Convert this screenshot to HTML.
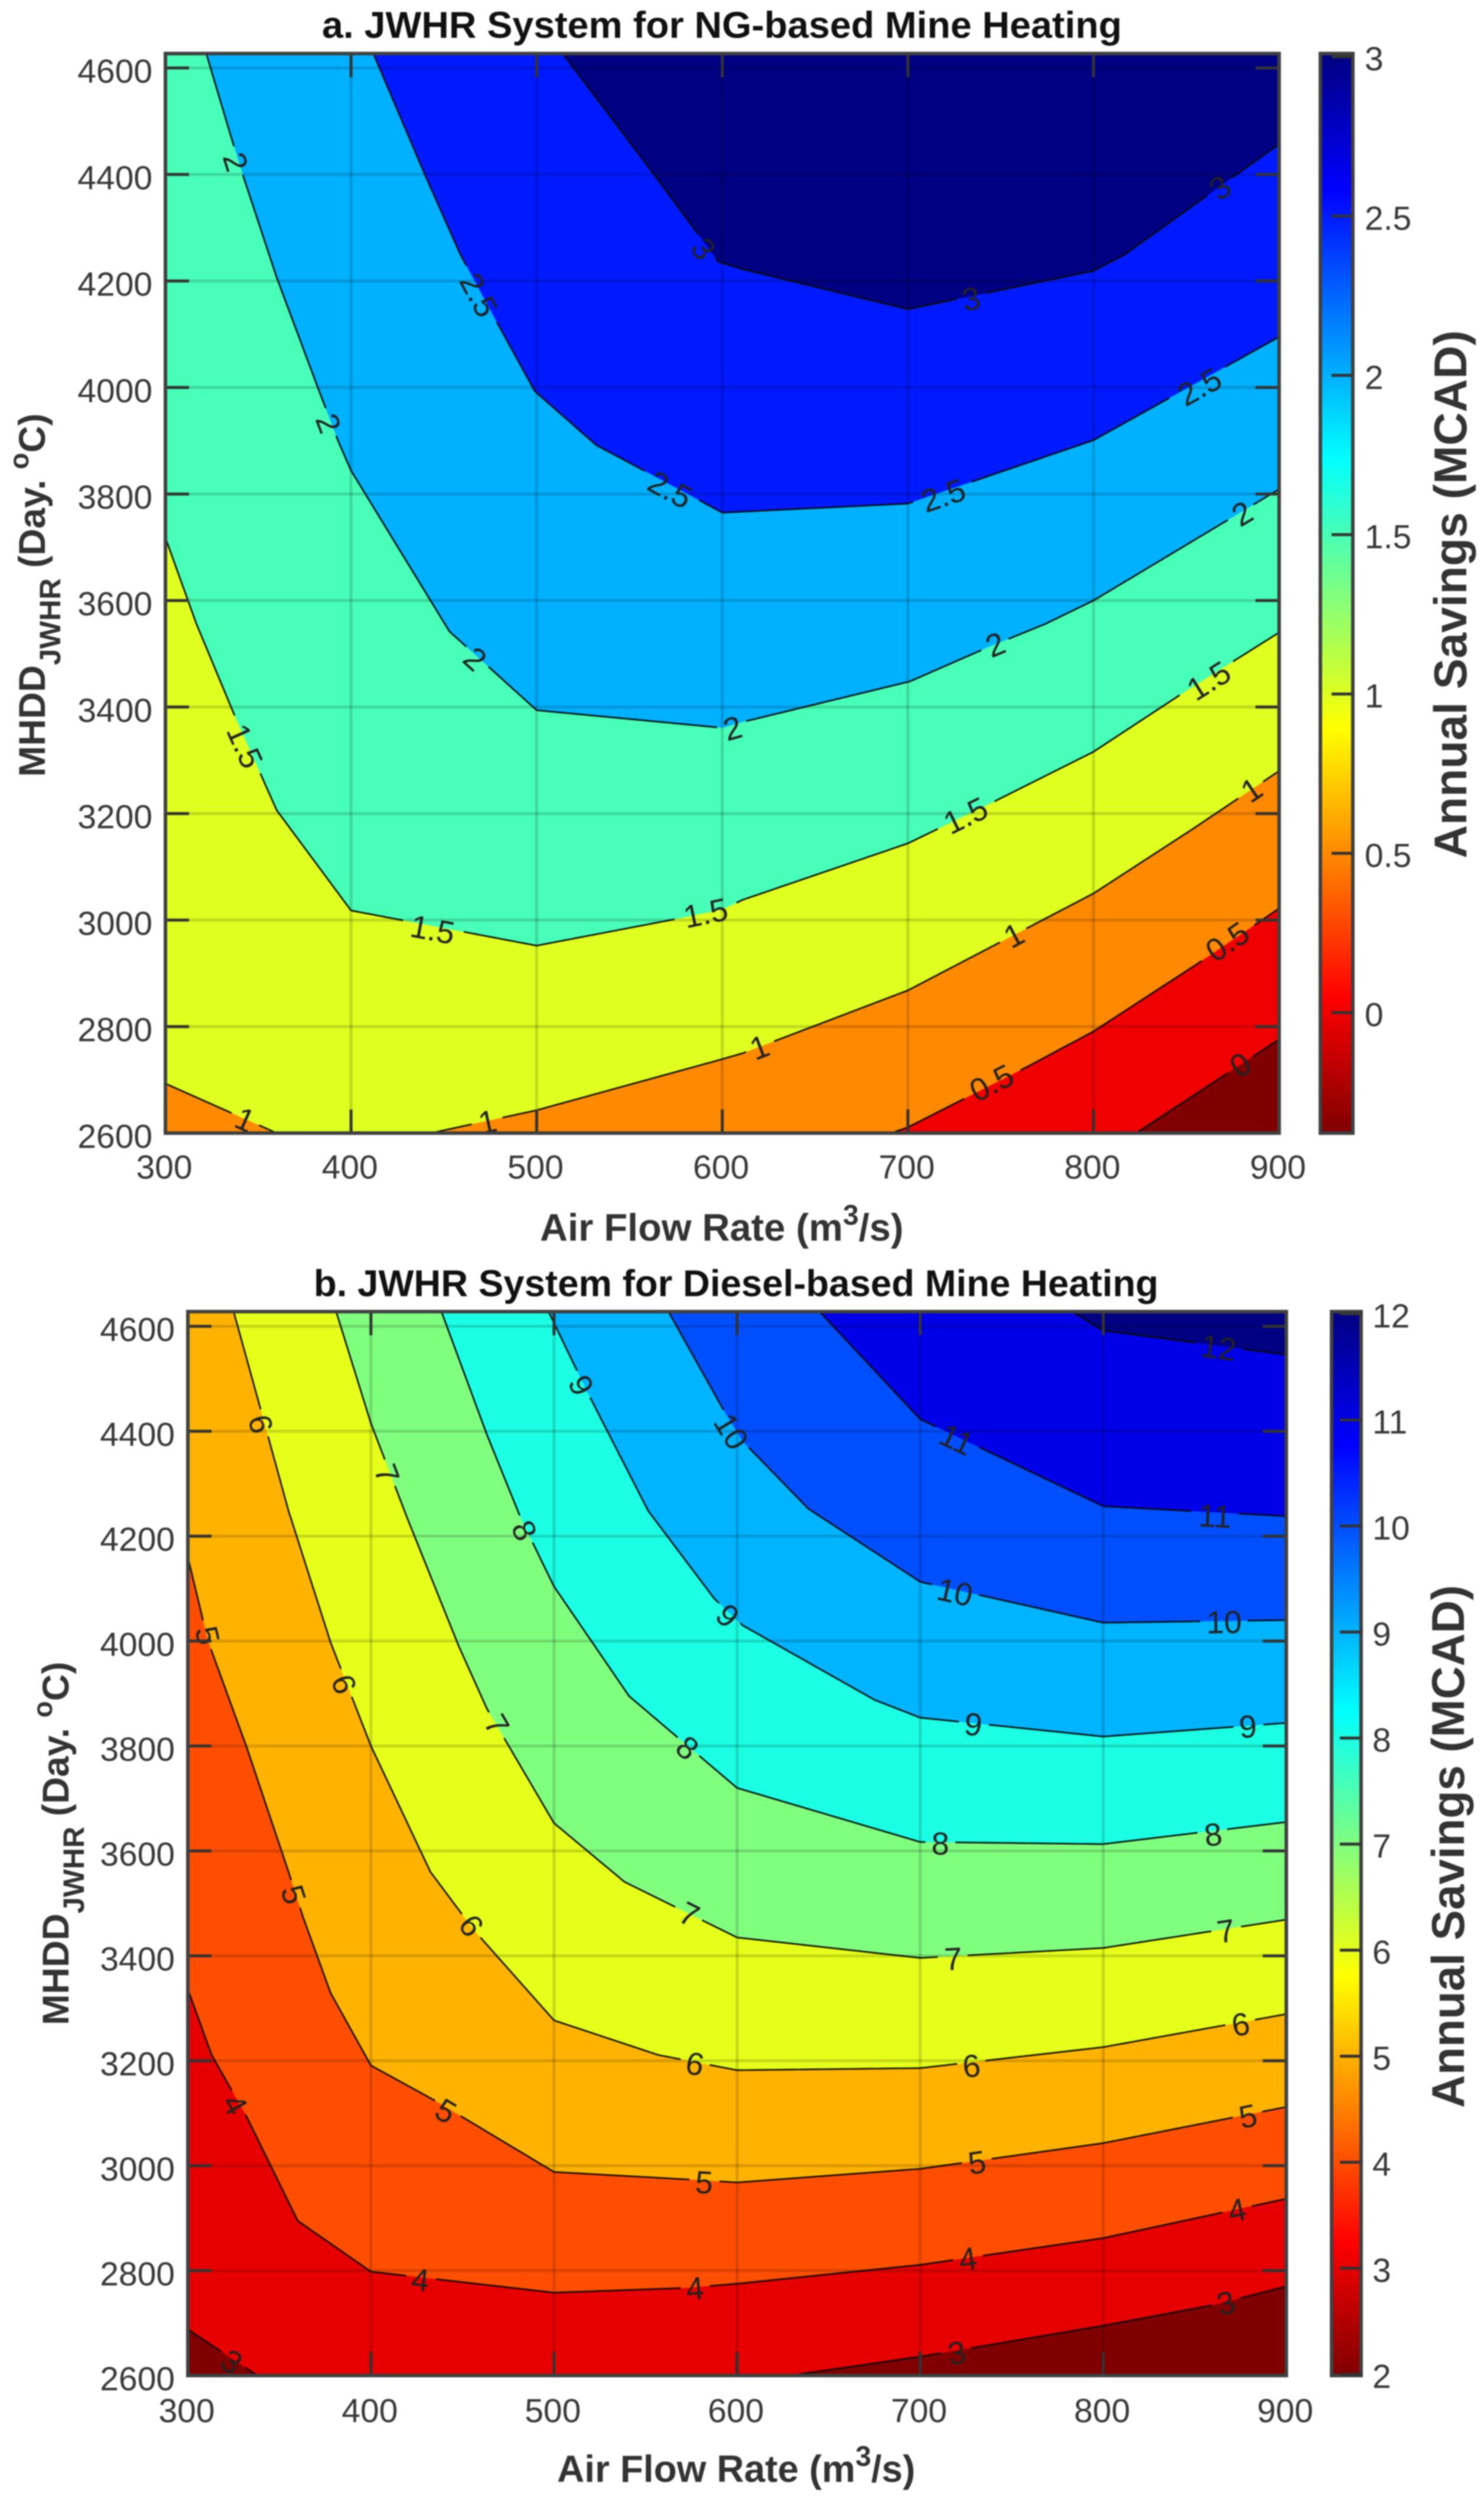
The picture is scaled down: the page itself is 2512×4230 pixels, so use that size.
<!DOCTYPE html>
<html lang="en">
<head>
<meta charset="utf-8">
<title>JWHR System Annual Savings Contours</title>
<style>
html,body{margin:0;padding:0;background:#fff;}
body{width:2512px;height:4230px;overflow:hidden;}
svg{display:block;filter:blur(1.1px);font-family:"Liberation Sans",Arial,sans-serif;}
</style>
</head>
<body>
<svg id="figure" xmlns="http://www.w3.org/2000/svg" width="2512" height="4230" viewBox="0 0 2512 4230">
  <defs id="defs"></defs>
  <text x="1222" y="64" text-anchor="middle" font-size="63" font-weight="bold" fill="#111" textLength="1354" lengthAdjust="spacingAndGlyphs">a. JWHR System for NG-based Mine Heating</text>
  <text x="1246" y="2194" text-anchor="middle" font-size="63" font-weight="bold" fill="#111" textLength="1430" lengthAdjust="spacingAndGlyphs">b. JWHR System for Diesel-based Mine Heating</text>
  <g id="chart-a"></g>
  <g id="chart-b"></g>
  <text x="914" y="2100" font-size="65" font-weight="bold" fill="#333">Air Flow Rate (m<tspan dy="-27" font-size="48">3</tspan><tspan dy="27">/s)</tspan></text>
  <text x="943" y="4201" font-size="64" font-weight="bold" fill="#333">Air Flow Rate (m<tspan dy="-27" font-size="48">3</tspan><tspan dy="27">/s)</tspan></text>
  <text transform="translate(76,1315) rotate(-90)" font-size="63" font-weight="bold" fill="#333">MHDD<tspan dy="26" font-size="50">JWHR</tspan><tspan dy="-26"> (Day. </tspan><tspan dy="-28" font-size="46">o</tspan><tspan dy="28">C)</tspan></text>
  <text transform="translate(116,3428) rotate(-90)" font-size="63" font-weight="bold" fill="#333">MHDD<tspan dy="26" font-size="50">JWHR</tspan><tspan dy="-26"> (Day. </tspan><tspan dy="-28" font-size="46">o</tspan><tspan dy="28">C)</tspan></text>
  <text transform="translate(2482,1453) rotate(-90)" font-size="78" font-weight="bold" fill="#333" textLength="894" lengthAdjust="spacingAndGlyphs">Annual Savings (MCAD)</text>
  <text transform="translate(2478,3568) rotate(-90)" font-size="78" font-weight="bold" fill="#333" textLength="885" lengthAdjust="spacingAndGlyphs">Annual Savings (MCAD)</text>
</svg>
<script>
// ---- shared axis data
const xTicks = [300, 400, 500, 600, 700, 800, 900];
const yTicks = [2600, 2800, 3000, 3200, 3400, 3600, 3800, 4000, 4200, 4400, 4600];

// ---- chart A: contour levels and colourbar
const levelsA = [0, 0.5, 1, 1.5, 2, 2.5, 3];
const cbarTicksA = [0, 0.5, 1, 1.5, 2, 2.5, 3];

// chart A contour vertices (air flow, MHDD); null = contour leaves plot
const airA0 = [823, 900];
const mhddA0 = [2600, 2776];
const airA05 = [691, 700, 764, 800, 856, 900];
const mhddA05 = [2600, 2611, 2724, 2791, 2918, 3022];
const airA1 = [300, 360, null, 443, 500, 598, 611, 700, 800, 853, 900];
const mhddA1 = [2693, 2600, null, 2600, 2643, 2737, 2750, 2868, 3050, 3170, 3280];
const airA15 = [300, 316.5, 338, 360, 400, 500, 578, 600, 611, 700, 745, 800, 848, 900];
const mhddA15 = [3718, 3558, 3378, 3206, 3018, 2952, 3004, 3020, 3038, 3144, 3220, 3316, 3426, 3540];
const airA2 = [322, 335, 342, 360, 382, 393, 400, 453, 500, 600, 611, 701, 743, 774, 800, 900];
const mhddA2 = [4627, 4475, 4396, 4206, 4001, 3900, 3844, 3542, 3394, 3361, 3372, 3448, 3512, 3556, 3600, 3809];
const airA25 = [412, 440, 459, 478.5, 499, 532, 560, 600, 700, 800, 900];
const mhddA25 = [4627, 4398, 4249, 4123, 3993, 3892, 3840, 3765, 3782, 3901, 4095];
const airA3 = [514, 560, 598, 611, 700, 800, 817, 900];
const mhddA3 = [4627, 4415, 4236, 4222, 4147, 4219, 4250, 4457];

// chart A inline contour labels
const labelLevelA = [2, 2, 2, 2, 2, 2, 2.5, 2.5, 2.5, 2.5, 3, 3, 3, 1.5, 1.5, 1.5, 1.5, 1.5, 1, 1, 1, 1, 1, 0.5, 0.5, 0];
const labelAirA = [338, 388, 467, 605.5, 747, 880, 469, 572, 719, 857, 590, 734, 868, 343, 444, 591, 731, 862, 343, 473.5, 620, 757, 885, 745, 872, 879];
const labelMhddA = [4424, 3933, 3491, 3361, 3518, 3764, 4174, 3809, 3798, 4002, 4261, 4167, 4376, 3327, 2983, 3014, 3197, 3450, 2626, 2622, 2762, 2972, 3245, 2695, 2960, 2729];

// ---- chart B: contour levels and colourbar
const levelsB = [3, 4, 5, 6, 7, 8, 9, 10, 11, 12];
const cbarTicksB = [2, 3, 4, 5, 6, 7, 8, 9, 10, 11, 12];

// chart B contour vertices
const airB3 = [300, 338, null, 629, 700, 800, 861, 900];
const mhddB3 = [2688, 2600, null, 2600, 2636, 2695, 2735, 2770];
const airB4 = [300, 313, 332, 360, 400, 500, 572, 600, 700, 800, 900];
const mhddB4 = [3336, 3211, 3094, 2895, 2798, 2758, 2767, 2775, 2811, 2862, 2937];
const airB5 = [300, 311, 332, 355, 363, 378, 400, 435, 500, 572, 600, 700, 800, 900];
const mhddB5 = [4160, 4000, 3799, 3560, 3473, 3329, 3191, 3124, 2988, 2974, 2968, 2994, 3043, 3112];
const airB6 = [325, 339.5, 355, 378, 400, 432.5, 456, 500, 557, 600, 700, 800, 900];
const mhddB6 = [4628, 4445, 4248, 3997, 3800, 3560, 3450, 3277, 3211, 3182, 3186, 3226, 3289];
const airB7 = [381, 400, 420, 448, 463.5, 500, 538.5, 600, 700, 800, 900];
const mhddB7 = [4628, 4415, 4233, 3990, 3870, 3653, 3541, 3435, 3396, 3415, 3469];
const airB8 = [438.5, 463.5, 482, 500, 541, 600, 700, 800, 900];
const mhddB8 = [4628, 4392, 4233, 4104, 3895, 3720, 3617, 3613, 3655];
const airB9 = [497, 518, 551.5, 587.5, 603, 675, 700, 800, 900];
const mhddB9 = [4628, 4476, 4248, 4081, 4030, 3888, 3854, 3818, 3844];
const airB10 = [562.5, 593, 603, 639, 700, 800, 900];
const mhddB10 = [4628, 4438, 4381, 4252, 4113, 4035, 4040];
const airB11 = [645, 700, 800, 900];
const mhddB11 = [4628, 4423, 4257, 4238];
const airB12 = [783, 800, 900];
const mhddB12 = [4628, 4592, 4546];

// chart B inline contour labels
const labelLevelB = [3, 3, 3, 4, 4, 4, 4, 4, 5, 5, 5, 5, 5, 5, 6, 6, 6, 6, 6, 6, 7, 7, 7, 7, 7, 8, 8, 8, 8, 9, 9, 9, 9, 10, 10, 10, 11, 11, 12];
const labelAirB = [324, 720, 867, 326, 427, 577, 726, 873, 311, 358, 441, 582, 731, 879, 340, 385.5, 455, 577, 728, 875, 409, 469, 574, 718, 867, 484, 573, 711, 860, 515, 595, 729, 879, 597, 719, 866, 720, 861, 863];
const labelMhddB = [2627, 2644, 2739, 3117, 2783, 2767, 2823, 2916, 4011, 3517, 3105, 2969, 3007, 3095, 4414, 3918, 3458, 3195, 3191, 3270, 4319, 3841, 3480, 3395, 3448, 4211, 3797, 3615, 3632, 4488, 4049, 3842, 3838, 4400, 4094, 4037, 4385, 4239, 4560];

// ---- rendering
const SVGNS = 'http://www.w3.org/2000/svg';

function make(parent, tag, attrs) {
  const el = document.createElementNS(SVGNS, tag);
  for (const k in attrs) el.setAttribute(k, attrs[k]);
  parent.appendChild(el);
  return el;
}

function jet(x) {
  const c = v => Math.round(255 * Math.max(0, Math.min(1, v)));
  const r = c(Math.min(4 * x - 1.5, -4 * x + 4.5));
  const g = c(Math.min(4 * x - 0.5, -4 * x + 3.5));
  const b = c(Math.min(4 * x + 0.5, -4 * x + 2.5));
  return 'rgb(' + r + ',' + g + ',' + b + ')';
}

function splitSegments(air, mhdd) {
  const segs = [];
  let cur = [];
  air.forEach(function (a, i) {
    if (a === null) { segs.push(cur); cur = []; }
    else cur.push([a, mhdd[i]]);
  });
  segs.push(cur);
  return segs;
}

function drawChart(cfg) {
  const root = document.getElementById(cfg.id);
  const x = cfg.x, y = cfg.y;
  const xMin = xTicks[0], xMax = xTicks[xTicks.length - 1], yMin = yTicks[0], yMax = cfg.yMax;
  const bandColor = v => jet(1 - (v - cfg.cMin) / (cfg.cMax - cfg.cMin));
  const left = x(xMin), right = x(xMax), top = y(yMax), bottom = y(yMin);

  // base band
  const base = make(root, 'rect', { x: left, y: top, width: right - left, height: bottom - top, fill: jet(1) });
  
  

  // filled bands, painted from low to high
  cfg.levels.forEach(function (lv, i) {
    const segs = splitSegments(cfg.airs[i], cfg.mhdds[i]);
    const flat = [].concat.apply([], segs);
    const pts = [[xMin, yMax]];
    if (flat[0][1] <= yMin) pts.push([xMin, yMin]);
    flat.forEach(p => pts.push(p));
    pts.push([xMax, yMax]);
    const poly = make(root, 'polygon', {
      points: pts.map(p => x(p[0]).toFixed(1) + ',' + y(p[1]).toFixed(1)).join(' '),
      fill: bandColor(lv)
    });
    
    
  });

  // grid
  xTicks.forEach(function (t) {
    const g = make(root, 'line', { x1: x(t), x2: x(t), y1: top, y2: bottom, stroke: '#000', 'stroke-opacity': 0.15, 'stroke-width': 5 });
    
    
  });
  yTicks.forEach(function (t) {
    const g = make(root, 'line', { x1: left, x2: right, y1: y(t), y2: y(t), stroke: '#000', 'stroke-opacity': 0.15, 'stroke-width': 5 });
    
    
  });

  // contour strokes with gaps at labels, then labels
  const labelPx = cfg.labelLevel.map(function (lv, i) {
    return { lv: lv, px: x(cfg.labelAir[i]), py: y(cfg.labelMhdd[i]), r: String(lv).length * 14 + 10 };
  });
  cfg.levels.forEach(function (lv, i) {
    const segs = splitSegments(cfg.airs[i], cfg.mhdds[i]);
    const mine = labelPx.filter(l => l.lv === lv);
    let d = '';
    let down = false;
    segs.forEach(function (seg) {
      down = false;
      for (let s = 0; s < seg.length - 1; s++) {
        const x0 = x(seg[s][0]), y0 = y(seg[s][1]), x1 = x(seg[s + 1][0]), y1 = y(seg[s + 1][1]);
        const n = Math.max(1, Math.ceil(Math.hypot(x1 - x0, y1 - y0) / 3));
        for (let k = 0; k <= n; k++) {
          const px = x0 + (x1 - x0) * k / n, py = y0 + (y1 - y0) * k / n;
          const hidden = mine.some(l => Math.hypot(px - l.px, py - l.py) < l.r);
          if (hidden) { down = false; continue; }
          d += (down ? 'L' : 'M') + px.toFixed(1) + ' ' + py.toFixed(1);
          down = true;
        }
      }
    });
    const path = make(root, 'path', { d: d, fill: 'none', stroke: '#0a0a0a', 'stroke-width': 2.6, 'stroke-linejoin': 'round' });
    
    
  });
  labelPx.forEach(function (l) {
    const idx = cfg.levels.indexOf(l.lv);
    const segs = idx < 0 ? [] : splitSegments(cfg.airs[idx], cfg.mhdds[idx]);
    let best = Infinity, ang = 0;
    segs.forEach(function (seg) {
      for (let s = 0; s < seg.length - 1; s++) {
        const x0 = x(seg[s][0]), y0 = y(seg[s][1]), x1 = x(seg[s + 1][0]), y1 = y(seg[s + 1][1]);
        const dx = x1 - x0, dy = y1 - y0;
        const t = Math.max(0, Math.min(1, ((l.px - x0) * dx + (l.py - y0) * dy) / (dx * dx + dy * dy)));
        const dist = Math.hypot(x0 + t * dx - l.px, y0 + t * dy - l.py);
        if (dist < best) { best = dist; ang = Math.atan2(dy, dx) * 180 / Math.PI; }
      }
    });
    if (ang > 90) ang -= 180;
    if (ang <= -90) ang += 180;
    const tx = make(root, 'text', {
      transform: 'translate(' + l.px.toFixed(1) + ',' + l.py.toFixed(1) + ') rotate(' + ang.toFixed(1) + ')',
      'text-anchor': 'middle', dy: '0.36em', 'font-size': 54, fill: '#222'
    });
    tx.textContent = String(l.lv);
    
    
  });

  // ticks and tick labels
  const tickLen = 40;
  xTicks.forEach(function (t) {
    if (t !== xMin && t !== xMax) {
      const b = make(root, 'line', { x1: x(t), x2: x(t), y1: bottom, y2: bottom - tickLen, stroke: '#333', 'stroke-width': 5 });
      
      
      const u = make(root, 'line', { x1: x(t), x2: x(t), y1: top, y2: top + tickLen, stroke: '#333', 'stroke-width': 5 });
      
      
    }
    const lab = make(root, 'text', { x: x(t) - 2, y: cfg.xLabelY, 'text-anchor': 'middle', 'font-size': 57, fill: '#383838' });
    lab.textContent = String(t);
    
    
  });
  yTicks.forEach(function (t) {
    const l = make(root, 'line', { x1: left, x2: left + tickLen, y1: y(t), y2: y(t), stroke: '#333', 'stroke-width': 5 });
    
    
    const r = make(root, 'line', { x1: right, x2: right - tickLen, y1: y(t), y2: y(t), stroke: '#333', 'stroke-width': 5 });
    
    
    const lab = make(root, 'text', { x: cfg.yLabelX, y: y(t) + 25, 'text-anchor': 'end', 'font-size': 57, fill: '#383838' });
    lab.textContent = String(t);
    
    
  });

  // axes box
  const box = make(root, 'rect', { x: left, y: top, width: right - left, height: bottom - top, fill: 'none', stroke: '#404040', 'stroke-width': 6 });
  
  

  // colourbar
  const defs = document.getElementById('defs');
  const grad = make(defs, 'linearGradient', { id: cfg.id + '-jet', x1: 0, y1: 0, x2: 0, y2: 1 });
  for (let s = 0; s <= 32; s++) {
    make(grad, 'stop', { offset: (s / 32).toFixed(4), 'stop-color': jet(s / 32) });
  }
  const bar = make(root, 'rect', { x: cfg.barLeft, y: top, width: cfg.barRight - cfg.barLeft, height: bottom - top, fill: 'url(#' + cfg.id + '-jet)', stroke: '#404040', 'stroke-width': 6 });
  
  
  cfg.cbarTicks.forEach(function (t) {
    const py = cfg.cbarY(t);
    const tk = make(root, 'line', { x1: cfg.barRight, x2: cfg.barRight - 36, y1: py, y2: py, stroke: '#333', 'stroke-width': 5 });
    
    
    const lab = make(root, 'text', { x: cfg.barLabelX, y: py + 23, 'font-size': 57, fill: '#383838' });
    lab.textContent = String(t);
    
    
  });
}

drawChart({
  id: 'chart-a',
  x: v => 280 + (v - 300) * 3.142,
  y: v => 1918 - (v - 2600) * 0.9015,
  yMax: 4627,
  cMin: -0.378, cMax: 3.01,
  levels: levelsA,
  airs: [airA0, airA05, airA1, airA15, airA2, airA25, airA3],
  mhdds: [mhddA0, mhddA05, mhddA1, mhddA15, mhddA2, mhddA25, mhddA3],
  labelLevel: labelLevelA, labelAir: labelAirA, labelMhdd: labelMhddA,
  xLabelY: 1995, yLabelX: 258,
  barLeft: 2235, barRight: 2290, barLabelX: 2310,
  cbarTicks: cbarTicksA,
  cbarY: v => 1714 - v * 539.3
});

drawChart({
  id: 'chart-b',
  x: v => 318 + (v - 300) * 3.099,
  y: v => 4021 - (v - 2600) * 0.888,
  yMax: 4628,
  cMin: 1.98, cMax: 12.03,
  levels: levelsB,
  airs: [airB3, airB4, airB5, airB6, airB7, airB8, airB9, airB10, airB11, airB12],
  mhdds: [mhddB3, mhddB4, mhddB5, mhddB6, mhddB7, mhddB8, mhddB9, mhddB10, mhddB11, mhddB12],
  labelLevel: labelLevelB, labelAir: labelAirB, labelMhdd: labelMhddB,
  xLabelY: 4100, yLabelX: 296,
  barLeft: 2254, barRight: 2304, barLabelX: 2323,
  cbarTicks: cbarTicksB,
  cbarY: v => 4019 - (v - 2) * 179.5
});
</script>
</body>
</html>
